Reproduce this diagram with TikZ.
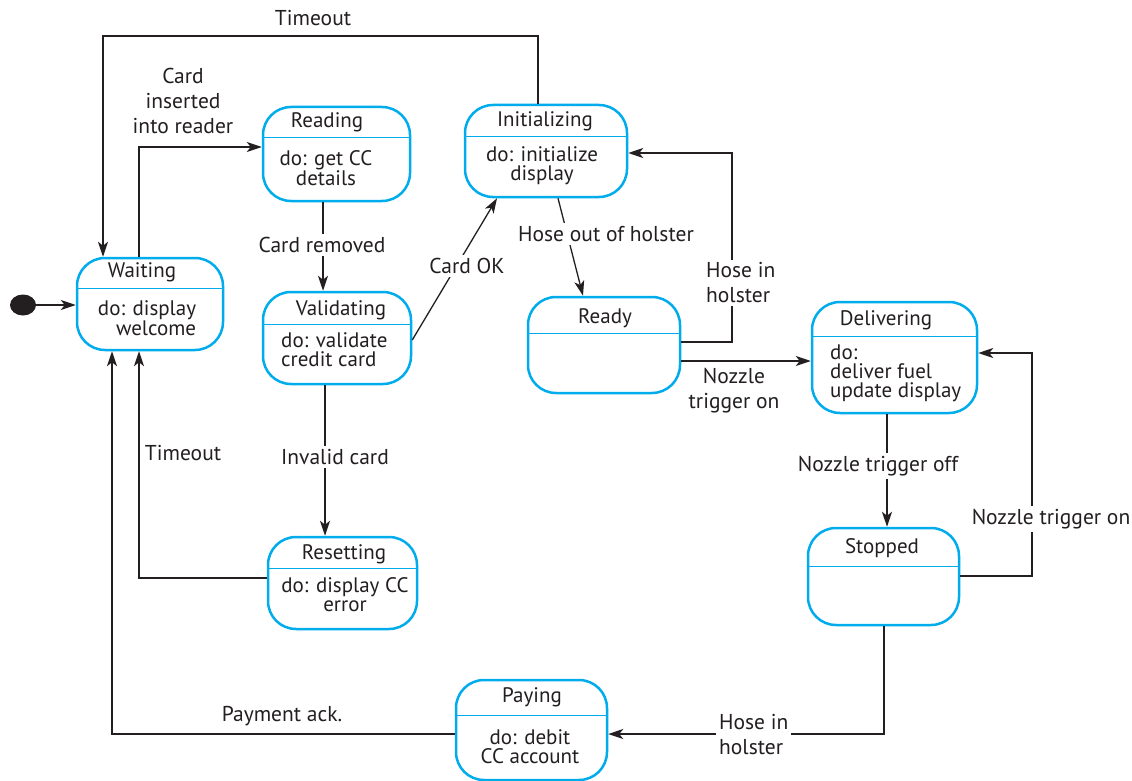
\documentclass[tikz,border=0pt]{standalone}
\usepackage{fontspec}
\setmainfont{PT Sans}
\usetikzlibrary{arrows.meta,shapes.geometric}
\definecolor{stblue}{RGB}{0,172,236}
\definecolor{ln}{RGB}{35,31,32}
\begin{document}
\begin{tikzpicture}[x=1pt,y=-1pt,
  state/.style={draw=stblue, line width=2.5pt, rounded corners=28pt, inner sep=0pt, fill=white},
  divline/.style={draw=stblue, line width=1pt},
  ttl/.style={font=\fontsize{21}{19}\selectfont, inner sep=0pt, text=ln},
  bodyc/.style={ttl, align=center},
  bodyl/.style={ttl, align=left},
  bodyr/.style={ttl, align=right},
  conn/.style={draw=ln, line width=1.3pt, -{Stealth[length=15pt,width=10pt,inset=4pt]}},
  lbl/.style={font=\fontsize{21.5}{25}\selectfont, fill=white, inner sep=3pt, text=ln, align=center},
  lbll/.style={lbl, align=left, anchor=west},
  startdot/.style={ellipse, fill=ln, minimum width=26pt, minimum height=21pt, inner sep=0pt}
]
\useasboundingbox (0,0) rectangle (1132,781);

% ---- states ----
\node[state, minimum width=146pt, minimum height=92pt] (waiting) at (150,304) {};
\node[state, minimum width=147pt, minimum height=94pt] (reading) at (336.5,154) {};
\node[state, minimum width=162pt, minimum height=92pt] (initializing) at (546,151) {};
\node[state, minimum width=148pt, minimum height=92pt] (validating) at (337,338) {};
\node[state, minimum width=152pt, minimum height=96pt] (ready) at (604,345) {};
\node[state, minimum width=165pt, minimum height=111pt] (delivering) at (894.5,357.5) {};
\node[state, minimum width=151pt, minimum height=97pt] (stopped) at (883.5,576.5) {};
\node[state, minimum width=149pt, minimum height=92pt] (resetting) at (342.5,583) {};
\node[state, minimum width=151pt, minimum height=100pt] (paying) at (531.5,730) {};
\node[startdot] (start) at (23,305) {};

% ---- dividers ----
\draw[divline] (waiting.west |- 0,288) -- (waiting.east |- 0,288);
\draw[divline] (reading.west |- 0,138) -- (reading.east |- 0,138);
\draw[divline] (initializing.west |- 0,137) -- (initializing.east |- 0,137);
\draw[divline] (validating.west |- 0,324) -- (validating.east |- 0,324);
\draw[divline] (ready.west |- 0,333) -- (ready.east |- 0,333);
\draw[divline] (delivering.west |- 0,336) -- (delivering.east |- 0,336);
\draw[divline] (stopped.west |- 0,566) -- (stopped.east |- 0,566);
\draw[divline] (resetting.west |- 0,568) -- (resetting.east |- 0,568);
\draw[divline] (paying.west |- 0,715) -- (paying.east |- 0,715);

% ---- state texts ----
\node[ttl] (waitingT) at (142,272) {Waiting};
\node[bodyr] (waitingB) at (147,318) {do: display\\welcome};
\node[ttl] (readingT) at (327,122) {Reading};
\node[bodyc] (readingB) at (326,168) {do: get CC\\details};
\node[ttl] (initializingT) at (545,121) {Initializing};
\node[bodyc] (initializingB) at (542,166) {do: initialize\\display};
\node[ttl] (validatingT) at (341,310) {Validating};
\node[bodyl, anchor=west] (validatingB) at (281,350) {do: validate\\credit card};
\node[ttl] (readyT) at (605,318) {Ready};
\node[ttl] (deliveringT) at (886,320) {Delivering};
\node[bodyl, anchor=west] (deliveringB) at (830,373) {do:\\deliver fuel\\update display};
\node[ttl] (stoppedT) at (882,548) {Stopped};
\node[ttl] (resettingT) at (344,554) {Resetting};
\node[bodyc] (resettingB) at (345,595) {do: display CC\\error};
\node[ttl] (payingT) at (532,697) {Paying};
\node[bodyc] (payingB) at (530,747) {do: debit\\CC account};

% ---- connectors ----
\draw[conn] (start.east) -- (waiting.west |- start.east);
\draw[conn] (waiting.north -| 139,0) |- (reading.west |- 0,147);
\draw[conn] (initializing.north -| 538,0) |- (103,36) -- (waiting.north -| 103,0);
\draw[conn] (reading.south -| 323,0) -- (validating.north -| 323,0);
\draw[conn] (validating.east |- 0,340) -- (initializing.south -| 497,0);
\draw[conn] (validating.south -| 325,0) -- (resetting.north -| 325,0);
\draw[conn] (resetting.west |- 0,578) -| (waiting.south -| 139,0);
\draw[conn] (paying.west |- 0,734) -| (waiting.south -| 112,0);
\draw[conn] (initializing.south -| 558,0) -- (ready.north -| 583,0);
\draw[conn] (ready.east |- 0,342) -| (732,153) -- (initializing.east |- 0,153);
\draw[conn] (ready.east |- 0,361) -- (delivering.west |- 0,361);
\draw[conn] (delivering.south -| 887,0) -- (stopped.north -| 887,0);
\draw[conn] (stopped.east |- 0,576) -| (1032,353) -- (delivering.east |- 0,353);
\draw[conn] (stopped.south -| 884,0) |- (paying.east |- 0,734);

% ---- labels ----
\node[lbl, fill=none] (lTimeoutTop) at (313,18) {Timeout};
\node[lbl, fill=none] (lCardIns) at (183,101) {Card\\inserted\\into reader};
\node[lbl] (lCardRem) at (322,245) {Card removed};
\node[lbl] (lCardOK) at (467,266) {Card OK};
\node[lbll] (lHoseIn1) at (703,283) {Hose in\\holster};
\node[lbl] (lHoseOut) at (606,234) {Hose out of holster};
\node[lbl, fill=none] (lNozOn1) at (734,391) {Nozzle\\trigger on};
\node[lbl] (lNozOff) at (878,466) {Nozzle trigger off};
\node[lbl] (lNozOn2) at (1051,519) {Nozzle trigger on};
\node[lbl, fill=none] (lTimeoutL) at (183,453) {Timeout};
\node[lbl] (lInvalid) at (335,457) {Invalid card};
\node[lbl, fill=none] (lPayAck) at (282,716) {Payment ack.};
\node[lbll] (lHoseIn2) at (716,735) {Hose in\\holster};
\end{tikzpicture}
\end{document}
